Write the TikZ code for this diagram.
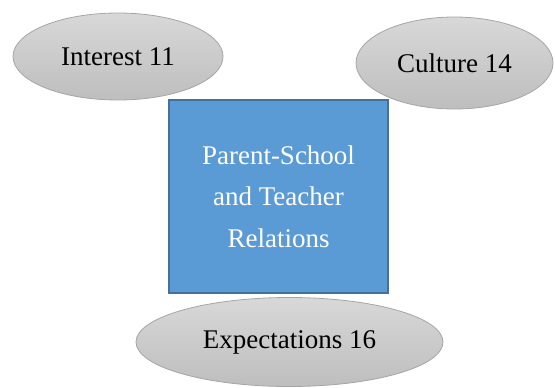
\documentclass[tikz,border=0pt]{standalone}
\usepackage{fontspec}
\setmainfont{Liberation Serif}
\usetikzlibrary{shapes.geometric}
\definecolor{boxblue}{RGB}{91,155,213}
\definecolor{boxedge}{RGB}{65,113,156}
\definecolor{ovaltop}{RGB}{216,216,216}
\definecolor{ovalbottom}{RGB}{190,190,190}
\definecolor{ovaledge}{RGB}{165,165,165}
\tikzset{
  factor/.style={ellipse,draw=ovaledge,line width=0.4pt,top color=ovaltop,bottom color=ovalbottom,inner sep=0pt,
    font=\fontsize{13.5}{16}\selectfont},
  centre/.style={rectangle,draw=boxedge,fill=boxblue,line width=1pt,text=white,align=center,inner sep=0pt,
    minimum width=109.5pt,minimum height=96.5pt,font=\fontsize{13.5}{20.8}\selectfont}
}
\begin{document}
\begin{tikzpicture}[x=0.5pt,y=0.5pt]
\useasboundingbox (0,0) rectangle (555,387);
% the central box
\node[centre] (rel) at (278.5,190.5) {Parent-School\\and Teacher\\Relations};
% the three factors round it
\node[factor,minimum width=105pt,minimum height=43.5pt] (interest) at (118,330.5) {Interest 11};
\node[factor,minimum width=98.5pt,minimum height=46pt] (culture) at (454.5,324) {Culture 14};
\node[factor,minimum width=153.5pt,minimum height=44.5pt] (expect) at (289.5,45) {Expectations 16};
\end{tikzpicture}
\end{document}
